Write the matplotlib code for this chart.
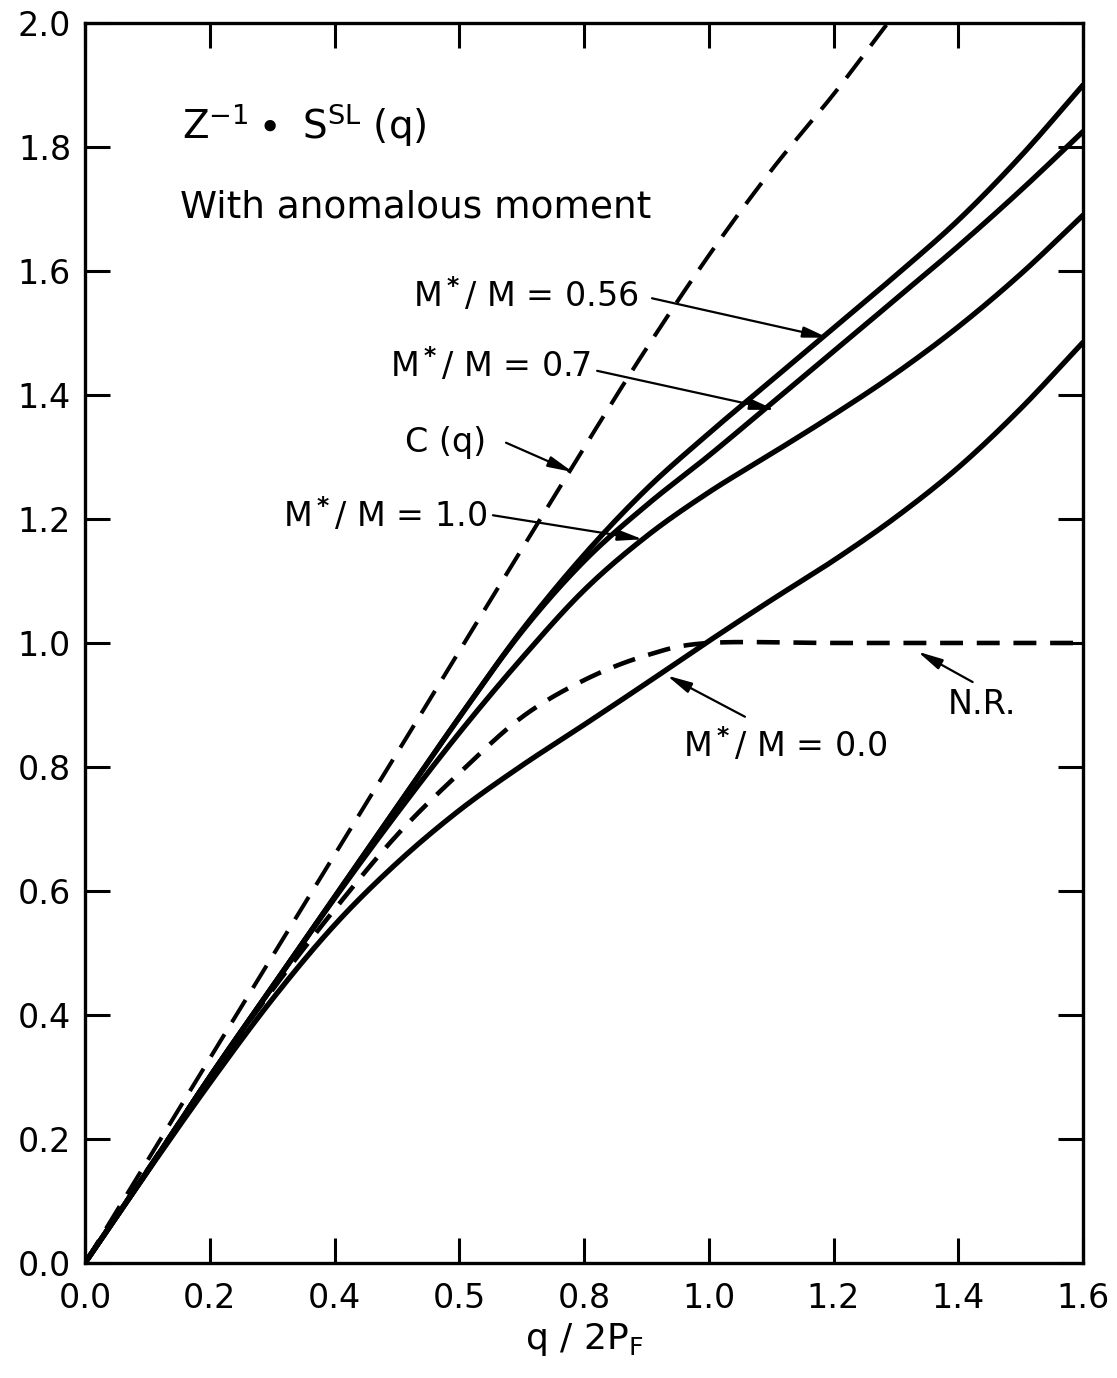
import numpy as np
import matplotlib
matplotlib.use('Agg')
from matplotlib import pyplot as plt

plt.rcParams['font.family'] = ['DejaVu Sans']
plt.rcParams['mathtext.default'] = 'regular'

# q/2P_F
x_solid = [0.0, 0.1, 0.2, 0.3, 0.4, 0.5, 0.6, 0.7, 0.8, 0.9, 1.0, 1.1, 1.2, 1.3, 1.4, 1.5, 1.6]
m056 = [0.0, 0.148, 0.30, 0.445, 0.59, 0.735, 0.88, 1.02, 1.142, 1.248, 1.338, 1.423, 1.508, 1.593, 1.682, 1.785, 1.90]
m07 = [0.0, 0.148, 0.30, 0.445, 0.59, 0.735, 0.88, 1.018, 1.132, 1.222, 1.302, 1.386, 1.47, 1.555, 1.64, 1.73, 1.825]
m10 = [0.0, 0.148, 0.30, 0.445, 0.588, 0.725, 0.855, 0.975, 1.085, 1.172, 1.243, 1.305, 1.368, 1.435, 1.51, 1.595, 1.69]
m00 = [0.0, 0.147, 0.29, 0.425, 0.545, 0.645, 0.73, 0.802, 0.868, 0.935, 1.003, 1.069, 1.133, 1.203, 1.283, 1.378, 1.485]

x_c = [0.0, 0.1, 0.2, 0.3, 0.4, 0.5, 0.6, 0.7, 0.8, 0.9, 1.0, 1.1, 1.2, 1.287]
c_q = [0.0, 0.165, 0.33, 0.494, 0.658, 0.822, 0.987, 1.151, 1.315, 1.475, 1.625, 1.762, 1.885, 2.0]

x_nr = [0.0, 0.1, 0.2, 0.3, 0.4, 0.5, 0.6, 0.7, 0.8, 0.9, 1.0, 1.2, 1.4, 1.6]
nr = [0.0, 0.15, 0.30, 0.44, 0.57, 0.69, 0.79, 0.88, 0.94, 0.98, 1.0, 1.0, 1.0, 1.0]

xticks = [0.0, 0.2, 0.4, 0.6, 0.8, 1.0, 1.2, 1.4, 1.6]
xtick_labels = ['0.0', '0.2', '0.4', '0.5', '0.8', '1.0', '1.2', '1.4', '1.6']
yticks = [0.0, 0.2, 0.4, 0.6, 0.8, 1.0, 1.2, 1.4, 1.6, 1.8, 2.0]


def smooth(xs, ys):
    # piecewise cubic through read points (Catmull-Rom)
    xs = np.asarray(xs, float)
    ys = np.asarray(ys, float)
    px = np.concatenate([[2 * xs[0] - xs[1]], xs, [2 * xs[-1] - xs[-2]]])
    py = np.concatenate([[2 * ys[0] - ys[1]], ys, [2 * ys[-1] - ys[-2]]])
    ox, oy = [], []
    for i in range(1, len(px) - 2):
        t = np.linspace(0, 1, 20, endpoint=False)
        for arr, out in ((px, ox), (py, oy)):
            p0, p1, p2, p3 = arr[i - 1], arr[i], arr[i + 1], arr[i + 2]
            out.extend(0.5 * (2 * p1 + (-p0 + p2) * t + (2 * p0 - 5 * p1 + 4 * p2 - p3) * t ** 2
                              + (-p0 + 3 * p1 - 3 * p2 + p3) * t ** 3))
    ox.append(xs[-1])
    oy.append(ys[-1])
    return np.array(ox), np.array(oy)


fig = plt.figure(figsize=(11.17, 13.78), dpi=100)
ax = fig.add_axes([0.0761, 0.0835, 0.8935, 0.8998])

lw = 3.8
for ys in (m056, m07, m10, m00):
    sx, sy = smooth(x_solid, ys)
    ax.plot(sx, sy, color='k', lw=lw, solid_capstyle='round')

sx, sy = smooth(x_c, c_q)
ax.plot(sx, sy, color='k', lw=2.9, linestyle=(0, (6.5, 3.5)))
sx, sy = smooth(x_nr, nr)
ax.plot(sx, sy, color='k', lw=3.3, linestyle=(0, (5.0, 3.0)))

ax.set_xlim(0, 1.6)
ax.set_ylim(0, 2.0)
ax.set_xticks(xticks)
ax.set_xticklabels(xtick_labels)
ax.set_yticks(yticks)
ax.set_yticklabels(['%.1f' % v for v in yticks])
ax.tick_params(direction='in', length=18, width=2.2, labelsize=24,
               top=True, right=True, pad=10)
ax.tick_params(axis='x', pad=14)
for s in ax.spines.values():
    s.set_linewidth(2.4)

ax.set_xlabel(r'q / 2P$_{F}$', fontsize=26, labelpad=4)

ax.text(0.155, 1.835, r'Z$^{-1}\bullet$ S$^{SL}$ (q)', fontsize=28, ha='left', va='center')
ax.text(0.152, 1.703, 'With anomalous moment', fontsize=27, ha='left', va='center')

star = r'M$^{\bf *}$/ M = '
arrow = dict(arrowstyle='-|>,head_length=1.5,head_width=0.33', lw=1.6, color='k',
             shrinkA=0, shrinkB=0)


def label(text, txy, tail, xc, xs, ys, dy=0.0):
    sx, sy = smooth(xs, ys)
    head = (xc, np.interp(xc, sx, sy) + dy)
    ax.text(txy[0], txy[1], text, fontsize=24, ha='left', va='center')
    ax.annotate('', xy=head, xytext=tail, arrowprops=arrow)


label(star + '0.56', (0.526, 1.561), (0.909, 1.556), 1.191, x_solid, m056, -0.008)
label(star + '0.7', (0.489, 1.448), (0.821, 1.439), 1.106, x_solid, m07, -0.015)
label('C (q)', (0.513, 1.323), (0.675, 1.323), 0.782, x_c, c_q, -0.01)
label(star + '1.0', (0.317, 1.206), (0.654, 1.206), 0.894, x_solid, m10, 0.0)
label(star + '0.0', (0.958, 0.835), (1.058, 0.881), 0.933, x_solid, m00, -0.01)
label('N.R.', (1.383, 0.900), (1.423, 0.937), 1.335, x_nr, nr, -0.014)

fig.savefig('out.png', dpi=100)
